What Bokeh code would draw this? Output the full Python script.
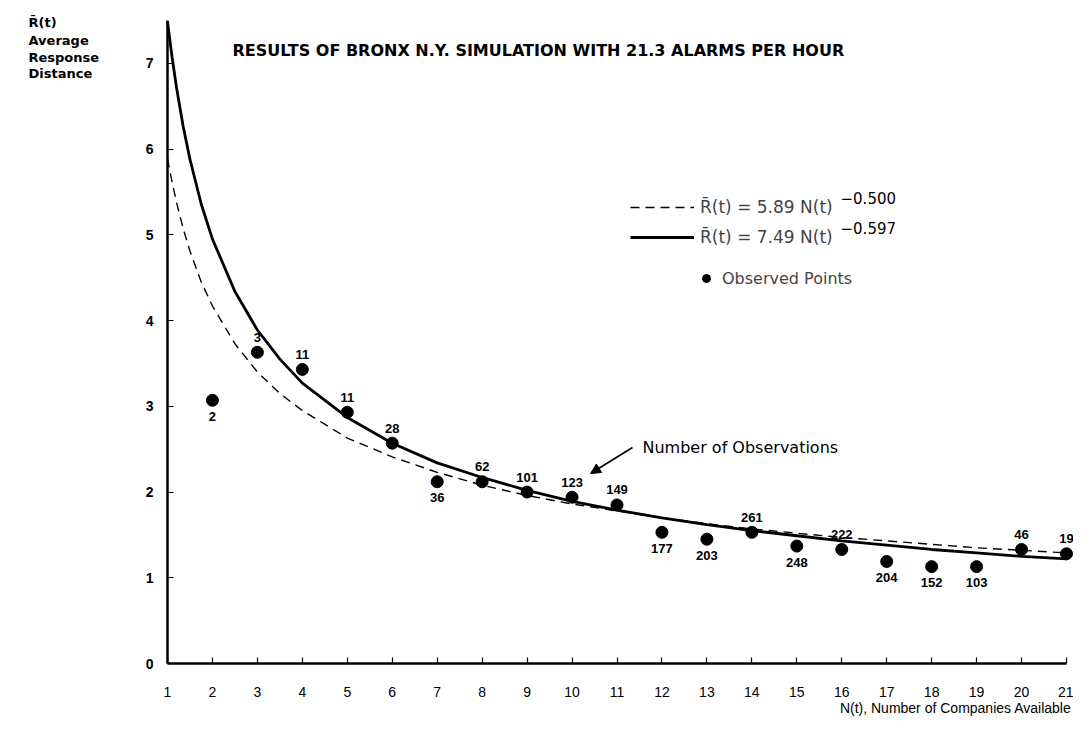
from bokeh.plotting import figure
from bokeh.models import (Label, Arrow, NormalHead, Range1d, ColumnDataSource,
                          FixedTicker, Legend, LegendItem, LinearAxis)
from bokeh.core.properties import value
from bokeh.embed import file_html
from bokeh.resources import INLINE

# ---------------- data ----------------
n_obs = [2, 3, 4, 5, 6, 7, 8, 9, 10, 11, 12, 13, 14, 15, 16, 17, 18, 19, 20, 21]
r_obs = [3.07, 3.63, 3.43, 2.93, 2.57, 2.12, 2.12, 2.00, 1.94, 1.85,
         1.53, 1.45, 1.53, 1.37, 1.33, 1.19, 1.13, 1.13, 1.33, 1.28]
obs_counts = ["2", "3", "11", "11", "28", "36", "62", "101", "123", "149",
              "177", "203", "261", "248", "222", "204", "152", "103", "46", "19"]
count_side = ["below", "above", "above", "above", "above", "below", "above", "above",
              "above", "above", "below", "below", "above", "below", "above", "below",
              "below", "below", "above", "above"]

curve_n = [1, 1.1, 1.2, 1.35, 1.5, 1.75, 2, 2.5, 3, 3.5, 4, 5, 6, 7, 8, 9, 10,
           11, 12, 13, 14, 15, 16, 17, 18, 19, 20, 21]
fit_solid = [7.49, 7.08, 6.72, 6.26, 5.88, 5.36, 4.95, 4.34, 3.89, 3.55, 3.27, 2.87,
             2.57, 2.34, 2.17, 2.02, 1.89, 1.79, 1.70, 1.62, 1.55, 1.49, 1.43, 1.38,
             1.33, 1.29, 1.25, 1.22]
fit_dashed = [5.89, 5.62, 5.38, 5.07, 4.81, 4.45, 4.17, 3.73, 3.40, 3.15, 2.95, 2.63,
              2.41, 2.23, 2.08, 1.96, 1.86, 1.78, 1.70, 1.63, 1.57, 1.52, 1.47, 1.43,
              1.39, 1.35, 1.32, 1.29]

x_ticks = list(range(1, 22))
y_ticks = [0, 1, 2, 3, 4, 5, 6, 7]

title_text = "RESULTS OF BRONX N.Y. SIMULATION WITH 21.3 ALARMS PER HOUR"
y_label_lines = ["R\u0304(t)", "Average", "Response", "Distance"]
x_label_text = "N(t), Number of Companies Available"
legend_dashed = "R\u0304(t) = 5.89 N(t)"
legend_solid = "R\u0304(t) = 7.49 N(t)"
exp_dashed = "\u22120.500"
exp_solid = "\u22120.597"
legend_points = "Observed Points"
note_text = "Number of Observations"

# ---------------- figure ----------------
W, H = 1073, 716
SX, SY = 44.95, 85.73          # pixels per unit
X0 = 1 - 167 / SX              # data x at left edge
Y1 = 663 / SY                  # data y at top edge

p = figure(width=W, height=H,
           x_range=Range1d(X0, X0 + W / SX), y_range=Range1d(Y1 - H / SY, Y1),
           output_backend="svg", toolbar_location=None,
           x_axis_location=None, y_axis_location=None,
           min_border=0, min_border_left=0, min_border_right=0,
           min_border_top=0, min_border_bottom=0)
p.outline_line_color = None
p.background_fill_color = "white"
p.border_fill_color = "white"
p.grid.visible = False

FONT = "Liberation Sans"
SANS = "DejaVu Sans"


def px_x(px):
    return X0 + px / SX


def px_y(py):
    return Y1 - py / SY


xaxis = LinearAxis(fixed_location=0, bounds=(1, 21), ticker=FixedTicker(ticks=x_ticks))
yaxis = LinearAxis(fixed_location=1, bounds=(0, 7.5), ticker=FixedTicker(ticks=y_ticks))
for ax in (xaxis, yaxis):
    ax.axis_line_width = 2.5
    ax.axis_line_color = "black"
    ax.major_tick_line_color = "black"
    ax.major_tick_line_width = 1.2
    ax.minor_tick_line_color = None
    ax.major_tick_out = 0
    ax.major_tick_in = 6
    ax.major_label_text_color = "black"
    ax.major_label_text_font = FONT
xaxis.major_label_text_font_size = "14px"
xaxis.major_label_standoff = 23
yaxis.major_label_text_font_size = "14px"
yaxis.major_label_text_font_style = "bold"
yaxis.major_label_standoff = 14
p.add_layout(xaxis, "below")
p.add_layout(yaxis, "left")
for g in p.renderers:
    pass

# fitted curves
r_dash = p.line(curve_n, fit_dashed, line_color="black", line_width=1.4, line_dash="9 6")
r_solid = p.line(curve_n, fit_solid, line_color="black", line_width=2.8)

# observed points
r_pts = p.scatter(n_obs, r_obs, size=12, color="black")

# observation counts
offs = [-15 if s == "above" else 16 for s in count_side]
src = ColumnDataSource(dict(x=n_obs, y=r_obs, t=obs_counts, off=offs))
p.text(x="x", y="y", text="t", y_offset="off", source=src,
       text_align="center", text_baseline="middle",
       text_font=value(FONT), text_font_style="bold", text_font_size="13px",
       text_color="black")

# legends
leg1 = Legend(items=[LegendItem(label=legend_dashed, renderers=[r_dash]),
                     LegendItem(label=legend_solid, renderers=[r_solid])],
              location=(630, H - 247), orientation="vertical",
              glyph_width=64, glyph_height=20, label_height=20, spacing=10,
              label_standoff=6, padding=0, margin=0,
              border_line_color=None, background_fill_alpha=0,
              label_text_font=SANS, label_text_font_size="17px")
leg2 = Legend(items=[LegendItem(label=legend_points, renderers=[r_pts])],
              location=(696, H - 288), glyph_width=20, glyph_height=20, label_height=20,
              label_standoff=6, padding=0, margin=0,
              border_line_color=None, background_fill_alpha=0,
              label_text_font=SANS, label_text_font_size="16px")
p.add_layout(leg1)
p.add_layout(leg2)

# exponents
p.add_layout(Label(x=px_x(840), y=px_y(197), text=exp_dashed, text_font=SANS,
                   text_font_size="15px", text_baseline="middle", text_color="black"))
p.add_layout(Label(x=px_x(840), y=px_y(227), text=exp_solid, text_font=SANS,
                   text_font_size="15px", text_baseline="middle", text_color="black"))

# title
p.add_layout(Label(x=px_x(232), y=px_y(50), text=title_text, text_font=SANS,
                   text_font_size="16px", text_font_style="bold",
                   text_baseline="middle", text_color="black"))

# y label block
for line, py in zip(y_label_lines, [22, 40, 57, 73]):
    p.add_layout(Label(x=px_x(28), y=px_y(py), text=line, text_font=SANS,
                       text_font_size="13px", text_font_style="bold",
                       text_baseline="middle", text_color="black"))

# x label
p.add_layout(Label(x=px_x(1071), y=px_y(707), text=x_label_text, text_font=FONT,
                   text_font_size="14px", text_align="right",
                   text_baseline="middle", text_color="black"))

# annotation arrow
p.add_layout(Arrow(x_start=px_x(632), y_start=px_y(447), x_end=px_x(590), y_end=px_y(473),
                   line_width=1.6, line_color="black",
                   end=NormalHead(size=10, fill_color="black", line_color="black")))
p.add_layout(Label(x=px_x(642), y=px_y(447), text=note_text, text_font=SANS,
                   text_font_size="16px", text_baseline="middle", text_color="black"))

open("out.html", "w").write(file_html(p, INLINE))
